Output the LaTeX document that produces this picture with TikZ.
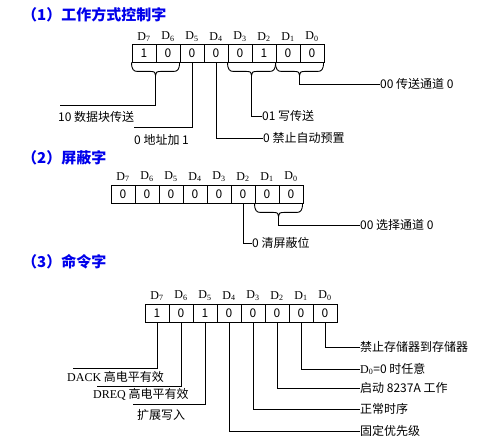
\documentclass[tikz,border=0pt]{standalone}
\usepackage{fontspec}
\setmainfont{Liberation Serif}
\newfontfamily\cjk{Noto Sans CJK SC}
\definecolor{titleblue}{RGB}{0,0,235}
\tikzset{
  cell/.style={draw, line width=0.9pt, minimum width=24pt, minimum height=18pt, inner sep=0pt,
    font=\cjk\fontsize{12}{12}\selectfont},
  bitlab/.style={inner sep=0pt, font=\fontsize{12}{12}\selectfont},
  ttl/.style={anchor=west, inner sep=0pt, text=titleblue, font=\cjk\bfseries\fontsize{15}{15}\selectfont},
  lab/.style={anchor=west, inner sep=0pt, font=\cjk\fontsize{12}{12}\selectfont},
  wire/.style={line width=0.9pt},
}
\newcommand\bitbrace[2]{%
  \draw[wire] (#1) .. controls +(0,7) and +(-4,0) .. ++(6,9) -- ++(13,0)
    .. controls +(4,0) and +(0,-3) .. ++(5,4) coordinate (#2)
    .. controls +(0,-3) and +(-4,0) .. ++(5,-4) -- ++(13,0)
    .. controls +(4,0) and +(0,7) .. ++(6,-9);}
\begin{document}
\begin{tikzpicture}[x=1pt,y=-1pt]
\useasboundingbox (0,0) rectangle (495,443);
% ---------- (1)
\node[ttl] (t1) at (22,15) {（1）工作方式控制字};
\foreach \b/\v in {7/1,6/0,5/0,4/0,3/0,2/1,1/0,0/0}{
  \node[cell] (a\b) at ({144+24*(7-\b)},53) {\v};
  \node[bitlab] (ha\b) at ({144+24*(7-\b)},37) {D\textsubscript{\b}};
}
\bitbrace{a7.south west}{bA}
\coordinate (eA) at (60,105);
\draw[wire] (bA) |- (eA);
\node[lab] (lA) at (58,117) {10 数据块传送};
\coordinate (eB) at (134,127);
\draw[wire] (a5.south) |- (eB);
\node[lab] (lB) at (134,140) {0 地址加 1};
\node[lab] (lC) at (263,138) {0 禁止自动预置};
\draw[wire] (a4.south) |- (lC.west);
\bitbrace{a3.south west}{bD}
\node[lab] (lD) at (262,116) {01 写传送};
\draw[wire] (bD) |- (lD.west);
\bitbrace{a1.south west}{bE}
\node[lab] (lE) at (380,84) {00 传送通道 0};
\draw[wire] (bE) |- (lE.west);
% ---------- (2)
\node[ttl] (t2) at (22,158) {（2）屏蔽字};
\foreach \b in {7,...,0}{
  \node[cell] (b\b) at ({123+24*(7-\b)},194) {0};
  \node[bitlab] (hb\b) at ({123+24*(7-\b)},177) {D\textsubscript{\b}};
}
\node[lab] (lF) at (252,243) {0 清屏蔽位};
\draw[wire] (b2.south) |- (lF.west);
\bitbrace{b1.south west}{bG}
\node[lab] (lG) at (360,225) {00 选择通道 0};
\draw[wire] (bG) |- (lG.west);
% ---------- (3)
\node[ttl] (t3) at (22,262) {（3）命令字};
\foreach \b/\v in {7/1,6/0,5/1,4/0,3/0,2/0,1/0,0/0}{
  \node[cell] (c\b) at ({157+24*(7-\b)},313) {\v};
  \node[bitlab] (hc\b) at ({157+24*(7-\b)},296) {D\textsubscript{\b}};
}
\coordinate (e7) at (73,368);
\draw[wire] (c7.south) |- (e7);
\node[lab] (l7) at (67,377) {{\rmfamily DACK} 高电平有效};
\coordinate (e6) at (97,386);
\draw[wire] (c6.south) |- (e6);
\node[lab] (l6) at (93,394) {{\rmfamily DREQ} 高电平有效};
\coordinate (e5) at (133,404);
\draw[wire] (c5.south) |- (e5);
\node[lab] (l5) at (137,415) {扩展写入};
\node[lab] (l4) at (360,431) {固定优先级};
\draw[wire] (c4.south) |- (l4.west);
\node[lab] (l3) at (360,409) {正常时序};
\draw[wire] (c3.south) |- (l3.west);
\node[lab] (l2) at (360,388) {启动 8237A 工作};
\draw[wire] (c2.south) |- (l2.west);
\node[lab] (l1) at (360,369) {{\rmfamily D\textsubscript{0}}=0 时任意};
\draw[wire] (c1.south) |- (l1.west);
\node[lab] (l0) at (360,347) {禁止存储器到存储器};
\draw[wire] (c0.south) |- (l0.west);
\end{tikzpicture}
\end{document}
